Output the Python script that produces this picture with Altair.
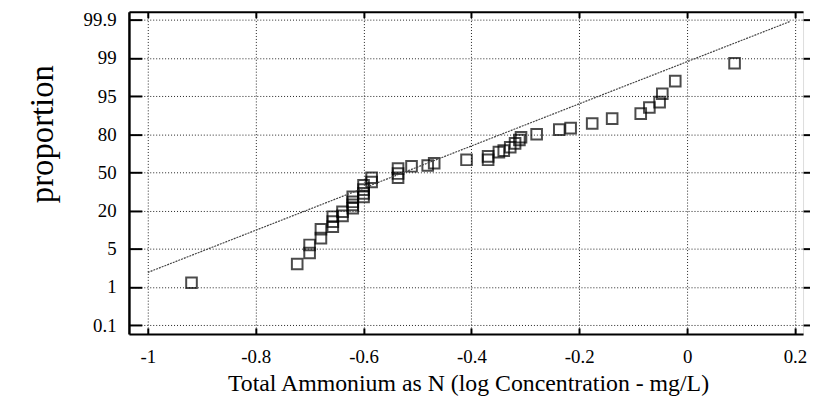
import altair as alt
import pandas as pd

# Observations: x = log concentration, y = position on the probability axis (tick index units)
obs_x = [-0.919, -0.723, -0.700, -0.700, -0.679, -0.679, -0.657, -0.657, -0.657, -0.639,
         -0.639, -0.620, -0.620, -0.620, -0.620, -0.600, -0.600, -0.600, -0.600, -0.585,
         -0.585, -0.536, -0.536, -0.536, -0.511, -0.481, -0.469, -0.409, -0.369, -0.369,
         -0.349, -0.340, -0.328, -0.319, -0.311, -0.308, -0.279, -0.237, -0.216, -0.176,
         -0.139, -0.086, -0.070, -0.051, -0.046, -0.022, 0.088]
obs_pos = [1.11, 1.60, 1.89, 2.10, 2.28, 2.51, 2.58, 2.71, 2.84, 2.86,
           2.97, 3.06, 3.15, 3.23, 3.36, 3.36, 3.45, 3.55, 3.66, 3.75,
           3.86, 3.86, 3.97, 4.10, 4.16, 4.18, 4.24, 4.33, 4.33, 4.42,
           4.53, 4.57, 4.66, 4.76, 4.85, 4.92, 5.00, 5.12, 5.16, 5.28,
           5.41, 5.54, 5.70, 5.84, 6.06, 6.39, 6.86]

fit_x = [-1.0, 0.19]
fit_pos = [1.38, 7.95]

y_tick_labels = ["0.1", "1", "5", "20", "50", "80", "95", "99", "99.9"]
x_ticks = [-1, -0.8, -0.6, -0.4, -0.2, 0, 0.2]

FONT = "Liberation Serif"

df = pd.DataFrame({"x": obs_x, "y": obs_pos})
fit = pd.DataFrame({"x": fit_x, "y": fit_pos})

xs = alt.Scale(domain=[-1.035, 0.215], nice=False, zero=False)
ys = alt.Scale(domain=[-0.23, 8.21], nice=False, zero=False)
y_ticks = list(range(len(y_tick_labels)))
ylab_expr = "[" + ",".join(f"'{s}'" for s in y_tick_labels) + "][datum.value]"
xlab_expr = "replace(format(datum.value, '~g'), '\u2212', '-')"

pts = alt.Chart(df).mark_square(size=115, filled=False, stroke="black", strokeWidth=2).encode(
    x=alt.X("x:Q", scale=xs, axis=alt.Axis(
        orient="bottom", values=x_ticks, labelExpr=xlab_expr, labelFont=FONT, labelFontSize=19,
        labelColor="black", labelPadding=14, labelFlush=False, labelOverlap=False,
        ticks=False, tickSize=0, domainColor="black", domainWidth=2,
        grid=True, gridColor="#222222", gridDash=[1, 2], gridWidth=1,
        title="Total Ammonium as N (log Concentration - mg/L)", titleFont=FONT, titleFontSize=24,
        titleFontWeight="normal", titleColor="black", titleX=342, titleY=50,
        titleBaseline="middle", titleAlign="center")),
    y=alt.Y("y:Q", scale=ys, axis=alt.Axis(
        orient="left", values=y_ticks, labelExpr=ylab_expr, labelFont=FONT, labelFontSize=19,
        labelColor="black", labelPadding=13, labelFlush=False, labelOverlap=False,
        ticks=False, tickSize=0, domainColor="black", domainWidth=2.5,
        grid=True, gridColor="#222222", gridDash=[1, 2], gridWidth=1,
        title="proportion", titleFont=FONT, titleFontSize=33, titleFontWeight="normal",
        titleColor="black", titleX=-87, titleY=123, titleAngle=270,
        titleBaseline="middle", titleAlign="center")),
)

fitline = alt.Chart(fit).mark_line(color="#444444", strokeWidth=1.2, strokeDash=[2, 1]).encode(
    x=alt.X("x:Q", scale=xs, axis=alt.Axis(
        orient="top", values=x_ticks, labels=False, ticks=False, domain=True,
        domainColor="black", domainWidth=2, grid=False, title="")),
    y=alt.Y("y:Q", scale=ys, axis=alt.Axis(
        orient="right", values=y_ticks, labels=False, ticks=True, tickSize=7,
        tickWidth=2, tickColor="black", domain=False, grid=False, title="")),
)

inner_ticks = alt.Chart(fit).mark_line(strokeOpacity=0).encode(
    x=alt.X("x:Q", scale=xs, axis=alt.Axis(
        orient="top", values=x_ticks, labels=False, ticks=True, tickSize=6, offset=-6,
        tickWidth=2, tickColor="black", domain=False, grid=False, title="")),
    y=alt.Y("y:Q", scale=ys, axis=alt.Axis(
        orient="left", values=y_ticks, labels=False, ticks=True, tickSize=13, offset=-13,
        tickWidth=2, tickColor="black", domain=False, grid=False, title="")),
)

bottom_ticks = alt.Chart(fit).mark_line(strokeOpacity=0).encode(
    x=alt.X("x:Q", scale=xs, axis=alt.Axis(
        orient="bottom", values=x_ticks, labels=False, ticks=True, tickSize=6, offset=-6,
        tickWidth=2, tickColor="black", domain=False, grid=False, title="")),
    y=alt.Y("y:Q", scale=ys, axis=None),
)

chart = alt.layer(pts, fitline, inner_ticks, bottom_ticks).resolve_axis(
    x="independent", y="independent"
).properties(
    width=680, height=325,
    autosize=alt.AutoSizeParams(type="none"),
    padding={"left": 122, "top": 2, "right": 7, "bottom": 70},
).configure_view(stroke=None).configure_axis(
    labelFont=FONT, titleFont=FONT, labelFontSize=19, labelColor="black",
    titleColor="black", titleFontWeight="normal"
).configure(font=FONT)

chart.save("out.html", embed_options={"renderer": "svg", "actions": False})
